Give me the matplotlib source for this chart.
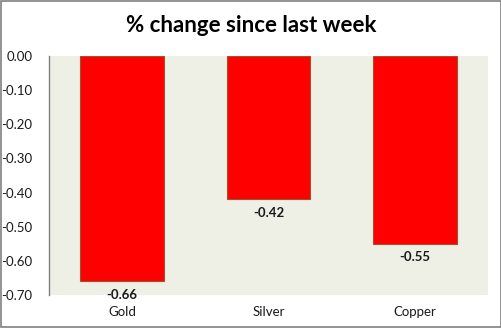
import matplotlib
matplotlib.use("Agg")
import matplotlib.pyplot as plt
from matplotlib.patches import Rectangle

# data
metals = ["Gold", "Silver", "Copper"]
pct_change = [-0.66, -0.42, -0.55]
y_ticks = [0.0, -0.1, -0.2, -0.3, -0.4, -0.5, -0.6, -0.7]

plt.rcParams['font.family'] = ['Lato', 'DejaVu Sans']

W, H = 502, 328
fig = plt.figure(figsize=(W / 100, H / 100), dpi=100)
# plot area in pixels: x 49..488, y 56..295
ax = fig.add_axes([49 / W, 1 - 295 / H, (488 - 49) / W, (295 - 56) / H])
ax.set_facecolor('#EEF0E6')

x = range(len(metals))
ax.bar(x, pct_change, width=0.57, color='#FF0000', edgecolor='#A0522D', linewidth=0.8)

for xi, v in zip(x, pct_change):
    ax.text(xi, v - 0.022, f"{v:.2f}", ha='center', va='top', fontsize=9.5, fontweight='bold', color='#1a1a1a')

ax.set_xlim(-0.5, len(metals) - 0.5)
ax.set_ylim(-0.7, 0.0)
ax.set_yticks(y_ticks)
ax.set_yticklabels([f"{t:.2f}" for t in y_ticks])
ax.set_xticks(list(x))
ax.set_xticklabels(metals)
ax.tick_params(axis='y', length=0, pad=12, labelsize=9.5, colors='#1a1a1a')
ax.tick_params(axis='x', length=0, pad=8, labelsize=9.5, colors='#1a1a1a')

for side in ['top', 'right', 'bottom']:
    ax.spines[side].set_visible(False)
ax.spines['left'].set_color('#808080')
ax.spines['left'].set_linewidth(1.0)

fig.text(0.5, 1 - 25 / H, "% change since last week", ha='center', va='center',
         fontsize=16, fontweight='bold', color='black')

# outer border
fig.patches.append(Rectangle((0.001, 0.002), 0.997, 0.995, transform=fig.transFigure,
                             fill=False, edgecolor='#808080', linewidth=1.2))

fig.savefig("out.png", dpi=100)
